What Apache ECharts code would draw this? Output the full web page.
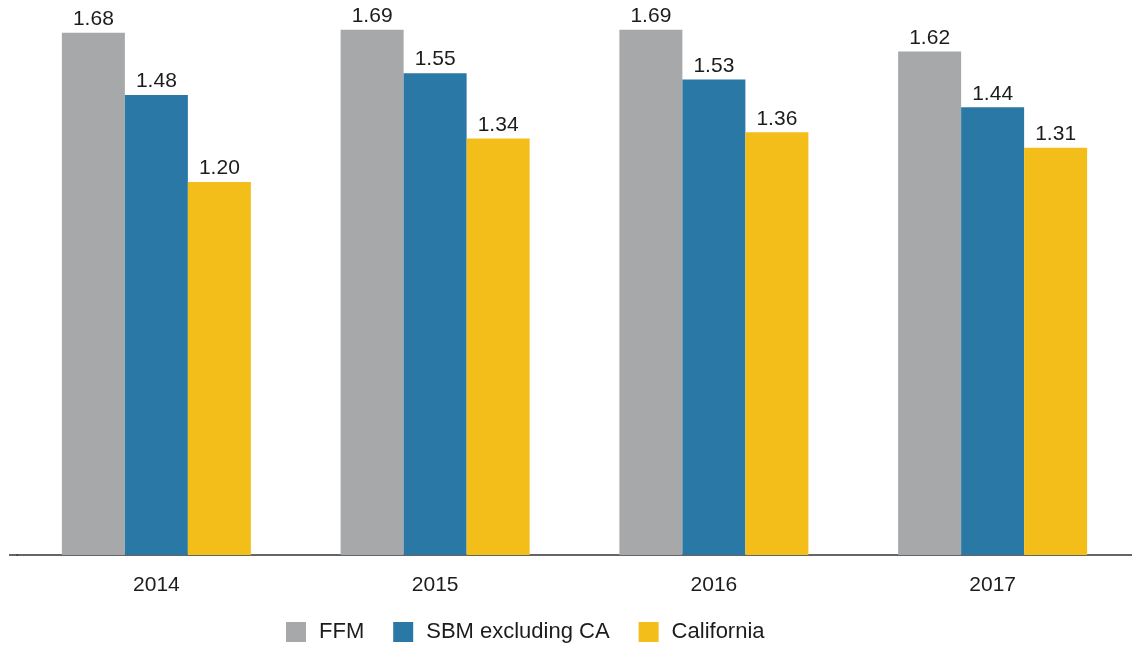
<!DOCTYPE html>
<html>
<head>
<meta charset="utf-8">
<script src="https://cdn.jsdelivr.net/npm/echarts@6/dist/echarts.min.js"></script>
<style>
  html, body { margin: 0; padding: 0; background: #fff; }
  #chart { width: 1132px; height: 647px; }
</style>
</head>
<body>
<div id="chart"></div>
<script>
// Years on the category axis
const years = ['2014', '2015', '2016', '2017'];

// Values per series
const ffm = [1.68, 1.69, 1.69, 1.62];
const sbmExclCA = [1.48, 1.55, 1.53, 1.44];
const california = [1.20, 1.34, 1.36, 1.31];

const seriesNames = ['FFM', 'SBM excluding CA', 'California'];
const colors = ['#a7a8aa', '#2a78a6', '#f3bd1a'];

const FONT = '"Liberation Sans", Arial, Helvetica, sans-serif';
const TEXT = '#1c1c1c';

const chart = echarts.init(document.getElementById('chart'), null, { renderer: 'canvas' });

function barSeries(name, data, color) {
  return {
    name: name,
    type: 'bar',
    data: data,
    barWidth: 63,
    barGap: '0%',
    itemStyle: { color: color },
    label: {
      show: true,
      position: 'top',
      distance: 3,
      color: TEXT,
      fontFamily: FONT,
      fontSize: 21,
      formatter: p => p.value.toFixed(2)
    }
  };
}

chart.setOption({
  animation: false,
  backgroundColor: '#ffffff',
  color: colors,
  grid: { left: 17, right: -3, top: 11, bottom: 92 },
  legend: {
    left: 286,
    bottom: 4,
    padding: 0,
    itemWidth: 20,
    itemHeight: 20,
    itemGap: 29,
    icon: 'rect',
    textStyle: { color: TEXT, fontFamily: FONT, fontSize: 22, padding: [0, 0, 0, 8] },
    data: seriesNames
  },
  xAxis: {
    type: 'category',
    data: years,
    axisLine: { lineStyle: { color: '#333', width: 1.5 } },
    axisTick: { show: false },
    axisLabel: { color: TEXT, fontFamily: FONT, fontSize: 21, margin: 20 }
  },
  yAxis: {
    type: 'value',
    min: 0,
    max: 1.75,
    show: false,
    splitLine: { show: false }
  },
  series: [
    barSeries(seriesNames[0], ffm, colors[0]),
    barSeries(seriesNames[1], sbmExclCA, colors[1]),
    barSeries(seriesNames[2], california, colors[2])
  ],
  graphic: [{
    // short lead-in of the baseline to the left of the plot area
    type: 'line',
    shape: { x1: 9, y1: 555, x2: 18, y2: 555 },
    style: { stroke: '#333', lineWidth: 1.5 }
  }]
});
</script>
</body>
</html>
